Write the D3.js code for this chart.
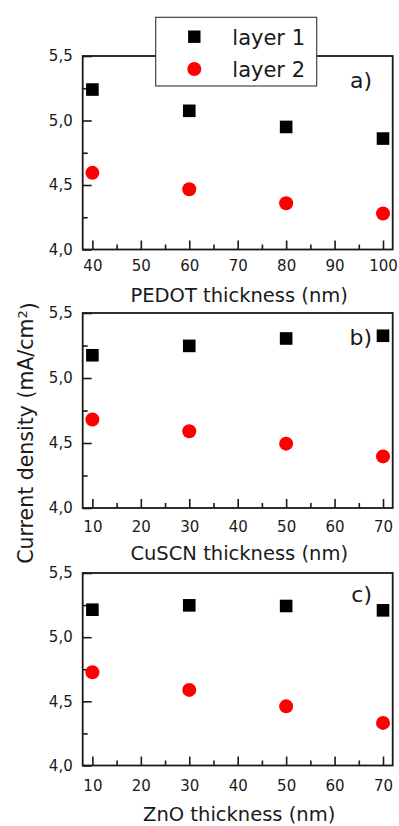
<!DOCTYPE html>
<html>
<head>
<meta charset="utf-8">
<script src="https://cdn.jsdelivr.net/npm/d3@7"></script>
<style>
  body { margin: 0; background: #fff; }
  svg { display: block; font-family: "DejaVu Sans", sans-serif; }
</style>
</head>
<body>
<script>
// thickness values (nm) for each panel
const pedotThickness = [40, 60, 80, 100];
const cuscnThickness = [10, 30, 50, 70];
const znoThickness = [10, 30, 50, 70];

// current density (mA/cm2)
const pedotLayer1 = [5.24, 5.075, 4.95, 4.86];
const pedotLayer2 = [4.594, 4.467, 4.359, 4.279];
const cuscnLayer1 = [5.175, 5.247, 5.304, 5.325];
const cuscnLayer2 = [4.681, 4.59, 4.495, 4.397];
const znoLayer1 = [5.214, 5.248, 5.243, 5.209];
const znoLayer2 = [4.727, 4.589, 4.461, 4.332];

const seriesNames = ['layer 1', 'layer 2'];
const yTicks = [4.0, 4.5, 5.0, 5.5];
const yMinorTicks = [4.25, 4.75, 5.25];
const pedotTicks = [40, 50, 60, 70, 80, 90, 100];
const thinTicks = [10, 20, 30, 40, 50, 60, 70];
const xTitles = ['PEDOT thickness (nm)', 'CuSCN thickness (nm)', 'ZnO thickness (nm)'];
const panelLetters = ['a)', 'b)', 'c)'];

const width = 399;
const height = 826;
const left = 82.7;
const right = 392.7;

const panels = [
  { x: pedotThickness, s1: pedotLayer1, s2: pedotLayer2, domain: [38, 102], ticks: pedotTicks,
    top: 56, bottom: 249.5, tickPad: 11.3, titleDy: 52.5, letterDy: 32 },
  { x: cuscnThickness, s1: cuscnLayer1, s2: cuscnLayer2, domain: [8, 72], ticks: thinTicks,
    top: 313, bottom: 508, tickPad: 13.5, titleDy: 51.5, letterDy: 32 },
  { x: znoThickness, s1: znoLayer1, s2: znoLayer2, domain: [8, 72], ticks: thinTicks,
    top: 573, bottom: 765.5, tickPad: 15, titleDy: 55.3, letterDy: 29 },
];

const ink = '#1a1a1a';
const red = '#f00';

const svg = d3.select('body')
  .append('svg')
  .attr('width', width)
  .attr('height', height)
  .attr('viewBox', [0, 0, width, height]);

panels.forEach((p, i) => {
  const x = d3.scaleLinear().domain(p.domain).range([left, right]);
  const y = d3.scaleLinear().domain([4, 5.5]).range([p.bottom, p.top]);
  const minorX = d3.range(p.ticks[0] + 5, p.ticks[p.ticks.length - 1], 10);
  const g = svg.append('g');

  // minor ticks first, major on top
  g.append('g')
    .attr('transform', `translate(0,${p.bottom})`)
    .call(d3.axisBottom(x).tickValues(minorX).tickSize(-5).tickFormat(''))
    .call(a => a.select('.domain').remove());

  g.append('g')
    .attr('transform', `translate(0,${p.bottom})`)
    .call(d3.axisBottom(x).tickValues(p.ticks).tickSize(-9).tickPadding(p.tickPad))
    .call(a => a.select('.domain').remove());

  g.append('g')
    .attr('transform', `translate(${left},0)`)
    .call(d3.axisLeft(y).tickValues(yMinorTicks).tickSize(-5).tickFormat(''))
    .call(a => a.select('.domain').remove());

  g.append('g')
    .attr('transform', `translate(${left},0)`)
    .call(d3.axisLeft(y).tickValues(yTicks).tickSize(-9).tickPadding(10)
      .tickFormat(d => d3.format('.1f')(d).replace('.', ',')))
    .call(a => a.select('.domain').remove());

  g.selectAll('.tick line').attr('stroke', ink).attr('stroke-width', 1.6);
  g.selectAll('.tick text')
    .attr('fill', ink)
    .style('font-size', '15px')
    .style('font-family', '"DejaVu Sans", sans-serif');

  g.append('rect')
    .attr('x', left)
    .attr('y', p.top)
    .attr('width', right - left)
    .attr('height', p.bottom - p.top)
    .attr('fill', 'none')
    .attr('stroke', ink)
    .attr('stroke-width', 1.8);

  g.selectAll('rect.sq')
    .data(p.x.map((d, j) => [d, p.s1[j]]))
    .join('rect')
      .attr('class', 'sq')
      .attr('x', d => x(d[0]) - 6.3)
      .attr('y', d => y(d[1]) - 6.3)
      .attr('width', 12.6)
      .attr('height', 12.6)
      .attr('fill', '#000');

  g.selectAll('circle')
    .data(p.x.map((d, j) => [d, p.s2[j]]))
    .join('circle')
      .attr('cx', d => x(d[0]))
      .attr('cy', d => y(d[1]))
      .attr('r', 7)
      .attr('fill', red);

  g.append('text')
    .attr('x', (left + right) / 2 + 1.5)
    .attr('y', p.bottom + p.titleDy)
    .attr('text-anchor', 'middle')
    .attr('fill', ink)
    .style('font-size', '19.5px')
    .text(xTitles[i]);

  g.append('text')
    .attr('x', 372)
    .attr('y', p.top + p.letterDy)
    .attr('text-anchor', 'end')
    .attr('fill', ink)
    .style('font-size', '22px')
    .text(panelLetters[i]);
});

// shared y title
const yTitle = svg.append('text')
  .attr('transform', 'translate(33,433) rotate(-90)')
  .attr('text-anchor', 'middle')
  .attr('fill', ink)
  .style('font-size', '20.5px');
yTitle.append('tspan').text('Current density (mA/cm');
yTitle.append('tspan').attr('dy', '-0.45em').style('font-size', '13px').text('2');
yTitle.append('tspan').attr('dy', '0.45em').text(')');

// legend
const legend = svg.append('g');
legend.append('rect')
  .attr('x', 155.7)
  .attr('y', 17.3)
  .attr('width', 161)
  .attr('height', 68.7)
  .attr('fill', '#fff')
  .attr('stroke', '#333')
  .attr('stroke-width', 1.1);

const item = legend.selectAll('g.item')
  .data(seriesNames)
  .join('g')
    .attr('class', 'item')
    .attr('transform', (d, i) => `translate(194.3,${36.7 + i * 32.3})`);

item.filter((d, i) => i === 0).append('rect')
  .attr('x', -6.2).attr('y', -6.2).attr('width', 12.4).attr('height', 12.4)
  .attr('fill', '#000');
item.filter((d, i) => i === 1).append('circle')
  .attr('r', 7)
  .attr('fill', red);
item.append('text')
  .attr('x', 38)
  .attr('y', 8.2)
  .attr('fill', ink)
  .style('font-size', '21px')
  .text(d => d);
</script>
</body>
</html>
